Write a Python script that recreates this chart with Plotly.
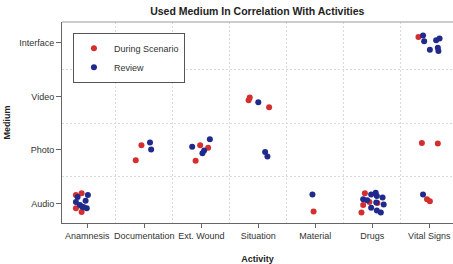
import plotly.graph_objects as go

activities = ["Anamnesis", "Documentation", "Ext. Wound", "Situation", "Material", "Drugs", "Vital Signs"]
media = ["Audio", "Photo", "Video", "Interface"]

ds_activity = (["Anamnesis"] * 4 + ["Documentation"] * 2 + ["Ext. Wound"] * 3 + ["Situation"] * 3 +
               ["Material"] + ["Drugs"] * 5 + ["Vital Signs"] * 5)
ds_medium = (["Audio"] * 4 + ["Photo"] * 2 + ["Photo"] * 3 + ["Video"] * 3 +
             ["Audio"] + ["Audio"] * 5 + ["Audio", "Audio", "Photo", "Photo", "Interface"])
ds_dx = [-0.20, -0.10, -0.20, -0.10, -0.05, -0.15, -0.02, 0.12, -0.10, -0.15, -0.17, 0.19,
         -0.03, -0.13, -0.16, -0.19, -0.05, 0.09, -0.04, 0.01, -0.13, 0.15, -0.19]
ds_dy = [0.16, 0.19, -0.09, -0.16, 0.09, -0.19, 0.09, 0.04, -0.20, -0.02, -0.07, -0.20,
         -0.15, 0.19, -0.03, -0.17, 0.03, 0.01, 0.08, 0.04, 0.13, 0.12, 0.11]

# Review (blue) observations
rv_activity = (["Anamnesis"] * 8 + ["Documentation"] * 2 + ["Ext. Wound"] * 4 + ["Situation"] * 3 +
               ["Material"] + ["Drugs"] * 11 + ["Vital Signs"] * 8)
rv_medium = (["Audio"] * 8 + ["Photo"] * 2 + ["Photo"] * 4 + ["Video", "Photo", "Photo"] +
             ["Audio"] + ["Audio"] * 11 + ["Audio"] + ["Interface"] * 7)
rv_dx = [-0.17, 0.01, -0.20, -0.03, -0.13, -0.09, -0.01, -0.06,
         0.10, 0.12,
         -0.16, 0.15, 0.05, 0.02,
         0.00, 0.12, 0.16,
         -0.05,
         -0.02, 0.06, 0.08, 0.18, -0.16, -0.09, 0.07, 0.20, -0.02, 0.08, 0.15,
         -0.11,
         -0.11, -0.09, 0.01, 0.12, 0.18, 0.15, 0.16]
rv_dy = [0.12, 0.16, 0.03, 0.05, -0.03, -0.06, -0.09, -0.07,
         0.14, 0.01,
         0.06, 0.20, -0.01, -0.06,
         -0.11, -0.04, -0.12,
         0.17,
         0.17, 0.20, 0.14, 0.11, 0.08, 0.06, 0.02, -0.02, -0.08, -0.13, -0.17,
         0.17,
         0.14, 0.03, -0.13, 0.05, 0.08, -0.09, -0.15]


def to_x(acts, dx):
    return [activities.index(a) + 1 + d for a, d in zip(acts, dx)]


def to_y(meds, dy):
    return [media.index(m) + 1 + d for m, d in zip(meds, dy)]


RED = "#D42F2F"
BLUE = "#1F2A8C"
FONT = "Liberation Sans, Arial, Helvetica, sans-serif"

fig = go.Figure()
fig.add_trace(go.Scatter(x=to_x(ds_activity, ds_dx), y=to_y(ds_medium, ds_dy), mode="markers",
                         name="During Scenario", marker=dict(color=RED, size=6)))
fig.add_trace(go.Scatter(x=to_x(rv_activity, rv_dx), y=to_y(rv_medium, rv_dy), mode="markers",
                         name="Review", marker=dict(color=BLUE, size=6)))

grid = dict(showgrid=True, griddash="2px,2px", gridcolor="#D9D9D9", gridwidth=1, ticklen=0)

fig.update_layout(
    width=453, height=264,
    margin=dict(l=62, r=0, t=22, b=41, autoexpand=False),
    paper_bgcolor="white", plot_bgcolor="white",
    font=dict(family=FONT, size=9, color="#333333"),
    title=dict(text="<b>Used Medium In Correlation With Activities</b>", x=0.568, xanchor="center",
               xref="container", yref="container", y=0.958, yanchor="middle",
               font=dict(size=10.5, color="#222222"), automargin=False),
    xaxis=dict(range=[0.556, 7.416], tickvals=list(range(1, len(activities) + 1)), ticktext=activities,
               showgrid=False, zeroline=False, showline=True, linecolor="#666666", linewidth=1,
               ticks="outside", ticklen=4, tickcolor="#666666", automargin=False,
               minor=dict(tick0=0.5, dtick=1, **grid),
               title=dict(text="<b>Activity</b>", font=dict(size=9, color="#222222"), standoff=15)),
    yaxis=dict(range=[0.636, 4.39], tickvals=list(range(1, len(media) + 1)), ticktext=media,
               showgrid=False, zeroline=False, showline=True, linecolor="#666666", linewidth=1,
               ticks="outside", ticklen=5, tickcolor="#666666", automargin=False,
               minor=dict(tick0=0.5, dtick=1, **grid),
               title=dict(text="<b>Medium</b>", font=dict(size=9, color="#222222"), standoff=7)),
    legend=dict(x=0.028, y=0.947, xanchor="left", yanchor="top", bordercolor="#555555", borderwidth=1,
                bgcolor="white", font=dict(size=9, color="#333333"), itemwidth=30),
    showlegend=True,
    shapes=[dict(type="line", xref="paper", yref="paper", x0=0, x1=1, y0=1, y1=1,
                 line=dict(color="#999999", width=1))],
)

fig.write_html("out.html", config={"displayModeBar": False},
               post_script="document.body.style.margin='0';document.body.style.overflow='hidden';")
